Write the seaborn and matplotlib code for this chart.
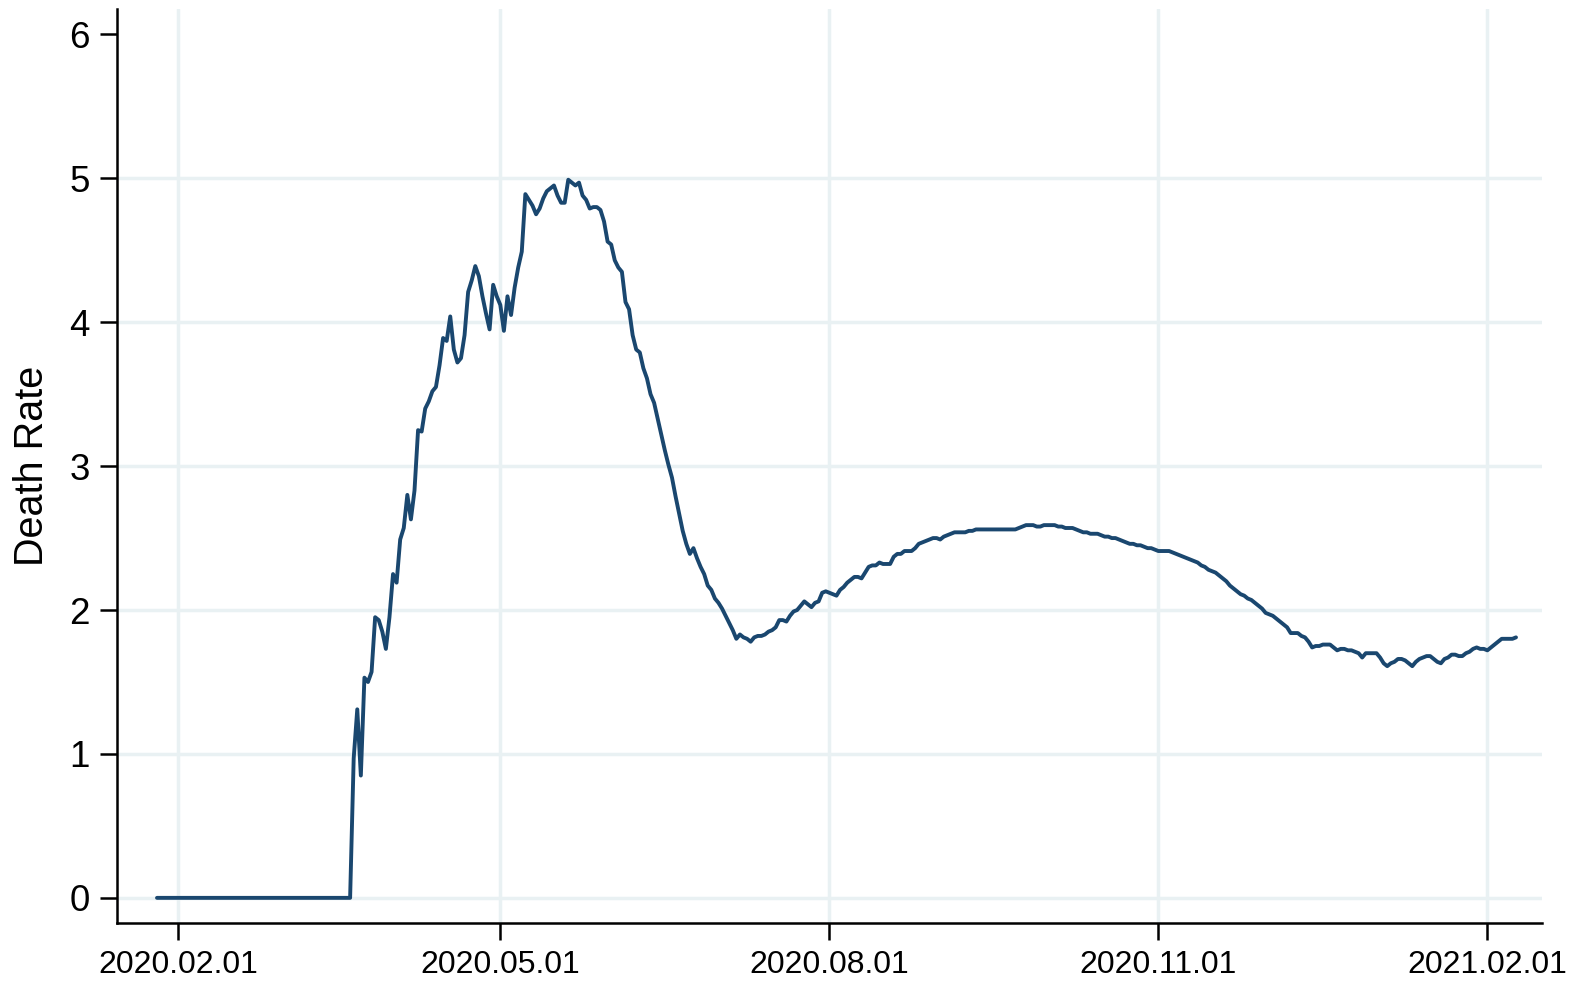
import matplotlib
matplotlib.use("Agg")
import matplotlib.pyplot as plt
import matplotlib.dates as mdates
import seaborn as sns
import pandas as pd

# ---------------- data ----------------
base_date = "2020-03-20"          # day 0
# days relative to base_date
day = [-54] + list(range(0, 327))
death_rate = [
    0.00,
    0.00, 0.97, 1.31, 0.85, 1.53, 1.50, 1.57, 1.95, 1.93, 1.85,
    1.73, 1.95, 2.25, 2.19, 2.49, 2.57, 2.80, 2.63, 2.83, 3.25,
    3.24, 3.40, 3.45, 3.52, 3.55, 3.70, 3.89, 3.87, 4.04, 3.81,
    3.72, 3.75, 3.91, 4.21, 4.29, 4.39, 4.32, 4.18, 4.06, 3.95,
    4.26, 4.18, 4.12, 3.94, 4.18, 4.05, 4.24, 4.38, 4.49, 4.89,
    4.85, 4.81, 4.75, 4.79, 4.86, 4.91, 4.93, 4.95, 4.88, 4.83,
    4.83, 4.99, 4.97, 4.95, 4.97, 4.88, 4.85, 4.79, 4.80, 4.80,
    4.78, 4.70, 4.56, 4.54, 4.43, 4.38, 4.35, 4.14, 4.09, 3.91,
    3.81, 3.79, 3.68, 3.61, 3.50, 3.44, 3.33, 3.22, 3.11, 3.01,
    2.92, 2.79, 2.67, 2.55, 2.46, 2.39, 2.43, 2.36, 2.30, 2.25,
    2.17, 2.14, 2.08, 2.05, 2.01, 1.96, 1.91, 1.86, 1.80, 1.83,
    1.81, 1.80, 1.78, 1.81, 1.82, 1.82, 1.83, 1.85, 1.86, 1.88,
    1.93, 1.93, 1.92, 1.96, 1.99, 2.00, 2.03, 2.06, 2.04, 2.02,
    2.05, 2.06, 2.12, 2.13, 2.12, 2.11, 2.10, 2.14, 2.16, 2.19,
    2.21, 2.23, 2.23, 2.22, 2.26, 2.30, 2.31, 2.31, 2.33, 2.32,
    2.32, 2.32, 2.37, 2.39, 2.39, 2.41, 2.41, 2.41, 2.43, 2.46,
    2.47, 2.48, 2.49, 2.50, 2.50, 2.49, 2.51, 2.52, 2.53, 2.54,
    2.54, 2.54, 2.54, 2.55, 2.55, 2.56, 2.56, 2.56, 2.56, 2.56,
    2.56, 2.56, 2.56, 2.56, 2.56, 2.56, 2.56, 2.57, 2.58, 2.59,
    2.59, 2.59, 2.58, 2.58, 2.59, 2.59, 2.59, 2.59, 2.58, 2.58,
    2.57, 2.57, 2.57, 2.56, 2.55, 2.54, 2.54, 2.53, 2.53, 2.53,
    2.52, 2.51, 2.51, 2.50, 2.50, 2.49, 2.48, 2.47, 2.46, 2.46,
    2.45, 2.45, 2.44, 2.43, 2.43, 2.42, 2.41, 2.41, 2.41, 2.41,
    2.40, 2.39, 2.38, 2.37, 2.36, 2.35, 2.34, 2.33, 2.31, 2.30,
    2.28, 2.27, 2.26, 2.24, 2.22, 2.20, 2.17, 2.15, 2.13, 2.11,
    2.10, 2.08, 2.07, 2.05, 2.03, 2.01, 1.98, 1.97, 1.96, 1.94,
    1.92, 1.90, 1.88, 1.84, 1.84, 1.84, 1.82, 1.81, 1.78, 1.74,
    1.75, 1.75, 1.76, 1.76, 1.76, 1.74, 1.72, 1.73, 1.73, 1.72,
    1.72, 1.71, 1.70, 1.67, 1.70, 1.70, 1.70, 1.70, 1.67, 1.63,
    1.61, 1.63, 1.64, 1.66, 1.66, 1.65, 1.63, 1.61, 1.64, 1.66,
    1.67, 1.68, 1.68, 1.66, 1.64, 1.63, 1.66, 1.67, 1.69, 1.69,
    1.68, 1.68, 1.70, 1.71, 1.73, 1.74, 1.73, 1.73, 1.72, 1.74,
    1.76, 1.78, 1.80, 1.80, 1.80, 1.80, 1.81,
]
tick_dates = ["2020-02-01", "2020-05-01", "2020-08-01", "2020-11-01", "2021-02-01"]
y_ticks = [0, 1, 2, 3, 4, 5, 6]
y_label = "Death Rate"

# ---------------- plot ----------------
sns.set_theme(style="white")
plt.rcParams["font.family"] = ["Liberation Sans", "DejaVu Sans"]

df = pd.DataFrame({
    "date": pd.Timestamp(base_date) + pd.to_timedelta(day, unit="D"),
    "rate": death_rate,
})

fig = plt.figure(figsize=(15.8, 9.83), dpi=100)
ax = fig.add_axes([0.0739, 0.0607, 0.9019, 0.9301])

grid_color = "#e9f1f3"
ax.set_axisbelow(True)

sns.lineplot(data=df, x="date", y="rate", color="#1a476f", linewidth=2.8,
             estimator=None, ax=ax)

ax.set_xlim(pd.Timestamp("2020-01-14 18:00"), pd.Timestamp("2021-02-16 05:00"))
ax.set_ylim(-0.177, 6.176)

ax.set_xticks(pd.to_datetime(tick_dates))
ax.xaxis.set_major_formatter(mdates.DateFormatter("%Y.%m.%d"))
ax.set_yticks(y_ticks)

ax.grid(True, color=grid_color, linewidth=2.5)
# no grid line at the top tick
ax.yaxis.get_gridlines()[-1].set_visible(False)

for s in ["top", "right"]:
    ax.spines[s].set_visible(False)
for s in ["left", "bottom"]:
    ax.spines[s].set_color("black")
    ax.spines[s].set_linewidth(1.8)

ax.tick_params(axis="both", which="major", bottom=True, left=True,
               length=12, width=1.8, color="black", labelcolor="black",
               direction="out")
ax.tick_params(axis="y", labelsize=26.5, pad=7.5)
ax.tick_params(axis="x", labelsize=23, pad=7)

ax.set_xlabel("")
ax.set_ylabel(y_label, fontsize=28.5, color="black")
ax.yaxis.set_label_coords(-0.0458, 0.5)

fig.savefig("out.png", dpi=100, facecolor="white")
